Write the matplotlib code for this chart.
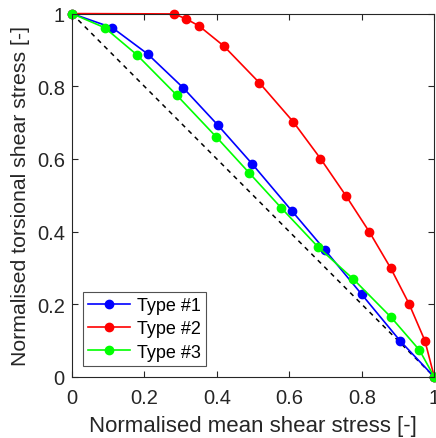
import matplotlib
matplotlib.use("Agg")
import matplotlib.pyplot as plt

plt.rcParams['font.family'] = ['Liberation Sans', 'DejaVu Sans']

type1_x = [0, 0.112, 0.209, 0.307, 0.402, 0.497, 0.607, 0.698, 0.800, 0.906, 1.0]
type1_y = [1, 0.961, 0.889, 0.796, 0.694, 0.587, 0.457, 0.350, 0.227, 0.099, 0.0]
type2_x = [0, 0.283, 0.316, 0.351, 0.419, 0.517, 0.611, 0.686, 0.756, 0.821, 0.880, 0.930, 0.974, 1.0]
type2_y = [1, 0.999, 0.985, 0.966, 0.911, 0.810, 0.702, 0.601, 0.499, 0.399, 0.299, 0.202, 0.100, 0.0]
type3_x = [0, 0.091, 0.179, 0.289, 0.399, 0.489, 0.578, 0.679, 0.777, 0.881, 0.959, 1.0]
type3_y = [1, 0.961, 0.887, 0.776, 0.660, 0.562, 0.465, 0.358, 0.269, 0.164, 0.074, 0.0]
ref_x = [0, 1]
ref_y = [1, 0]
ticks = [0, 0.2, 0.4, 0.6, 0.8, 1]
tick_labels = ['0', '0.2', '0.4', '0.6', '0.8', '1']

fig = plt.figure(figsize=(4.36, 4.39), dpi=100)
ax = fig.add_axes([0.1647, 0.139, 0.8314, 0.8278])

ax.plot(ref_x, ref_y, '--', color='black', lw=1.1, dashes=(3, 3), clip_on=False)
ax.plot(type1_x, type1_y, '-o', color='#0000ff', lw=1.2, ms=6, label='Type #1', clip_on=False)
ax.plot(type2_x, type2_y, '-o', color='#ff0000', lw=1.2, ms=6, label='Type #2', clip_on=False)
ax.plot(type3_x, type3_y, '-o', color='#00ff00', lw=1.2, ms=6, label='Type #3', clip_on=False)

ax.set_xlim(0, 1)
ax.set_ylim(0, 1)
ax.set_xticks(ticks)
ax.set_xticklabels(tick_labels)
ax.set_yticks(ticks)
ax.set_yticklabels(tick_labels)
ax.tick_params(direction='in', top=True, right=True, length=4, width=0.8,
               labelsize=14.5, colors='#262626')
ax.tick_params(axis='x', pad=8)
ax.tick_params(axis='y', pad=5)
for s in ax.spines.values():
    s.set_color('#262626')
    s.set_linewidth(0.8)

ax.set_xlabel('Normalised mean shear stress [-]', fontsize=16, color='#262626', labelpad=6)
ax.set_ylabel('Normalised torsional shear stress [-]', fontsize=15.3, color='#262626', labelpad=5)

leg = ax.legend(loc='lower left', bbox_to_anchor=(0.03, 0.03), fontsize=13,
                frameon=True, fancybox=False, edgecolor='#262626',
                handlelength=2.3, handletextpad=0.4, borderpad=0.3, labelspacing=0.35,
                borderaxespad=0)
leg.get_frame().set_linewidth(0.8)

fig.savefig('out.png', dpi=100)
